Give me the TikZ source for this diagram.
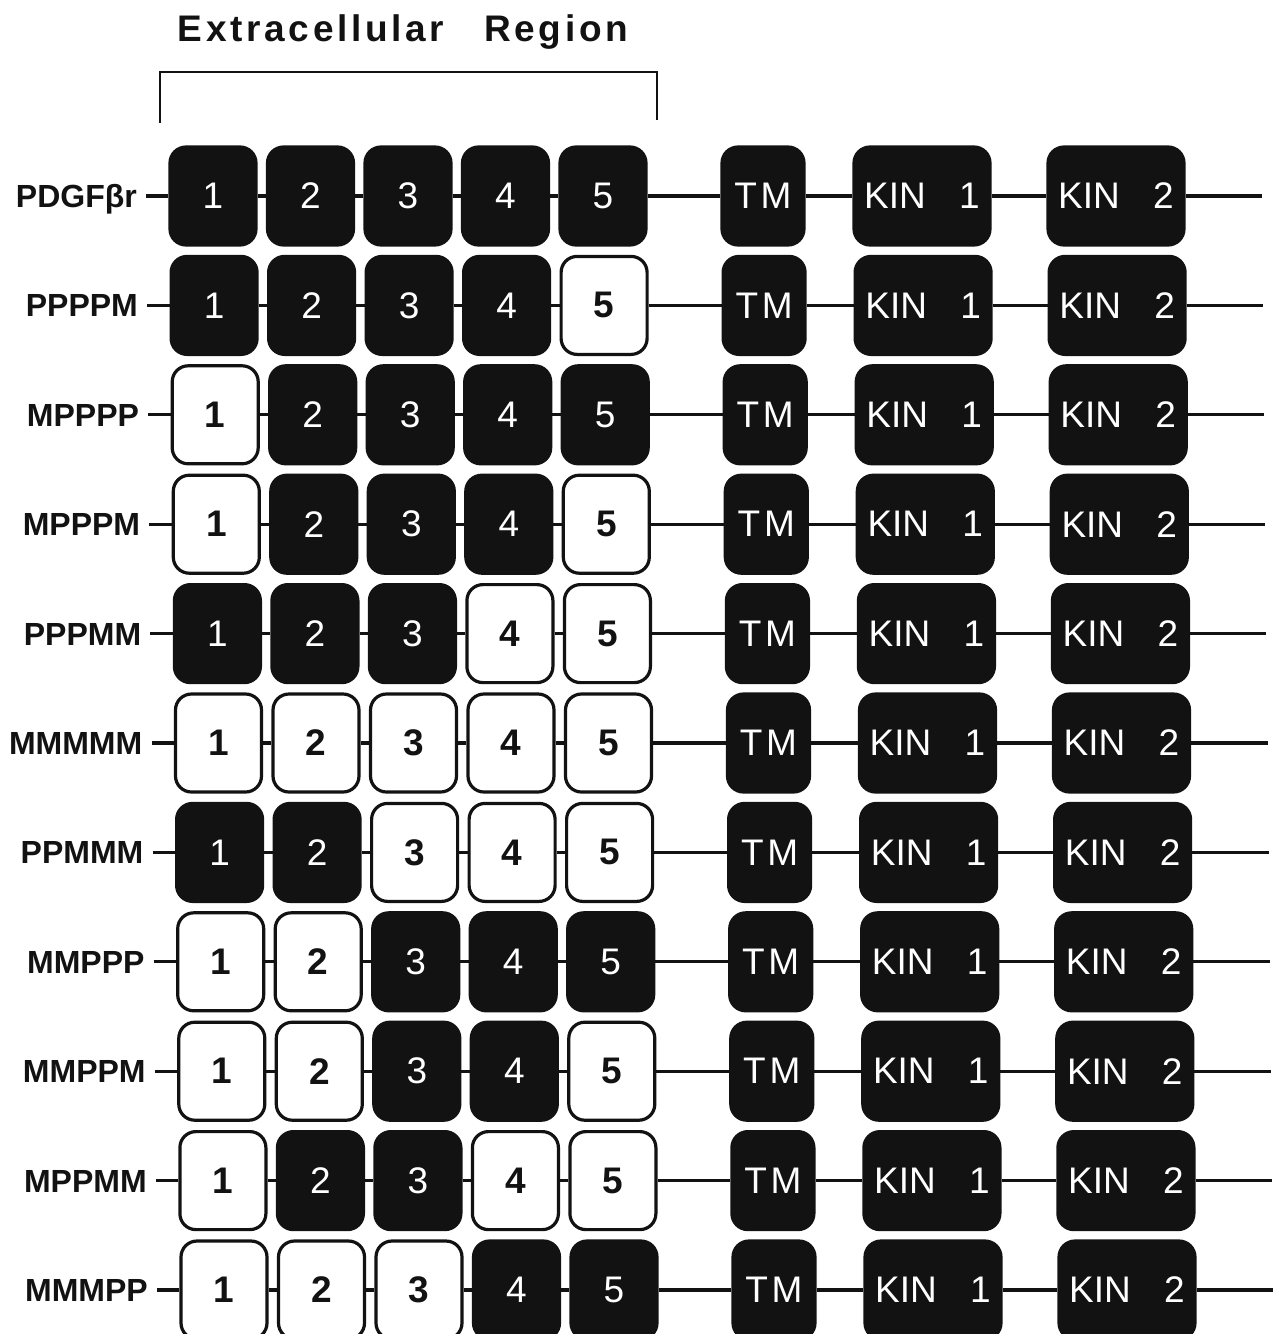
\documentclass[tikz,border=0pt]{standalone}
\usepackage{fontspec}
\setmainfont{Liberation Sans}
\newfontfamily\spacedfont[LetterSpace=10]{Liberation Sans}
\usetikzlibrary{positioning}
\definecolor{ink}{HTML}{121212}

\tikzset{
  dombox/.style={rounded corners=16pt, minimum width=86pt, minimum height=98pt, line width=3.2pt, draw=ink, inner sep=0pt, font=\fontsize{37}{37}\selectfont},
  domP/.style={dombox, fill=ink, text=white},
  domM/.style={dombox, fill=white, text=ink, font=\fontsize{37}{37}\selectfont\bfseries},
  tmbox/.style={domP, minimum width=82pt, font=\spacedfont\fontsize{37}{37}\selectfont},
  kinbox/.style={domP, minimum width=136pt},
  rowlabel/.style={anchor=east, inner xsep=9pt, text height=23pt, text depth=0pt, font=\fontsize{32}{32}\selectfont\bfseries, text=ink},
  link/.style={line width=3.2pt, draw=ink},
}

\begin{document}
\begin{tikzpicture}[x=1pt, y=-1pt]
\useasboundingbox (0,0) rectangle (1273,1334);
\clip (0,0) rectangle (1273,1334);

% heading and bracket over the five domains
\node[anchor=base, text=ink, font=\spacedfont\fontsize{37}{37}\selectfont\bfseries] (title) at (403,41) {Extracellular\hspace{0.7em} Region};
\draw[link, line width=2.6pt] (160,123) -- (160,72) -- (657,72) -- (657,120);

% one row per receptor construct
\foreach \lbl/\pat [count=\r] in {PDGFβr/{P,P,P,P,P}, PPPPM/{P,P,P,P,M}, MPPPP/{M,P,P,P,P},
    MPPPM/{M,P,P,P,M}, PPPMM/{P,P,P,M,M}, MMMMM/{M,M,M,M,M}, PPMMM/{P,P,M,M,M},
    MMPPP/{M,M,P,P,P}, MMPPM/{M,M,P,P,M}, MPPMM/{M,P,P,M,M}, MMMPP/{M,M,M,P,P}} {
  \begin{scope}[shift={({(\r-1)*1.1},{196+(\r-1)*109.4})}]
    \node[rowlabel] (lbl\r) at (146,0) {\lbl};
    \foreach \t [count=\i] in \pat {
      \if\t P\tikzset{cur/.style={domP}}\else\tikzset{cur/.style={domM}}\fi
      \node[cur] (d\r-\i) at ({213+(\i-1)*97.5},0) {\i};
    }
    \node[tmbox] (tm\r) at (763,0) {TM};
    \node[kinbox] (ka\r) at (922,0) {KIN\hspace{0.9em}1};
    \node[kinbox] (kb\r) at (1116,0) {KIN\hspace{0.9em}2};
    \coordinate (end\r) at (1262,0);
    \draw[link] (lbl\r) -- (d\r-1);
    \draw[link] (d\r-1) -- (d\r-2);
    \draw[link] (d\r-2) -- (d\r-3);
    \draw[link] (d\r-3) -- (d\r-4);
    \draw[link] (d\r-4) -- (d\r-5);
    \draw[link] (d\r-5) -- (tm\r);
    \draw[link] (tm\r) -- (ka\r);
    \draw[link] (ka\r) -- (kb\r);
    \draw[link] (kb\r) -- (end\r);
  \end{scope}
}
\end{tikzpicture}
\end{document}
